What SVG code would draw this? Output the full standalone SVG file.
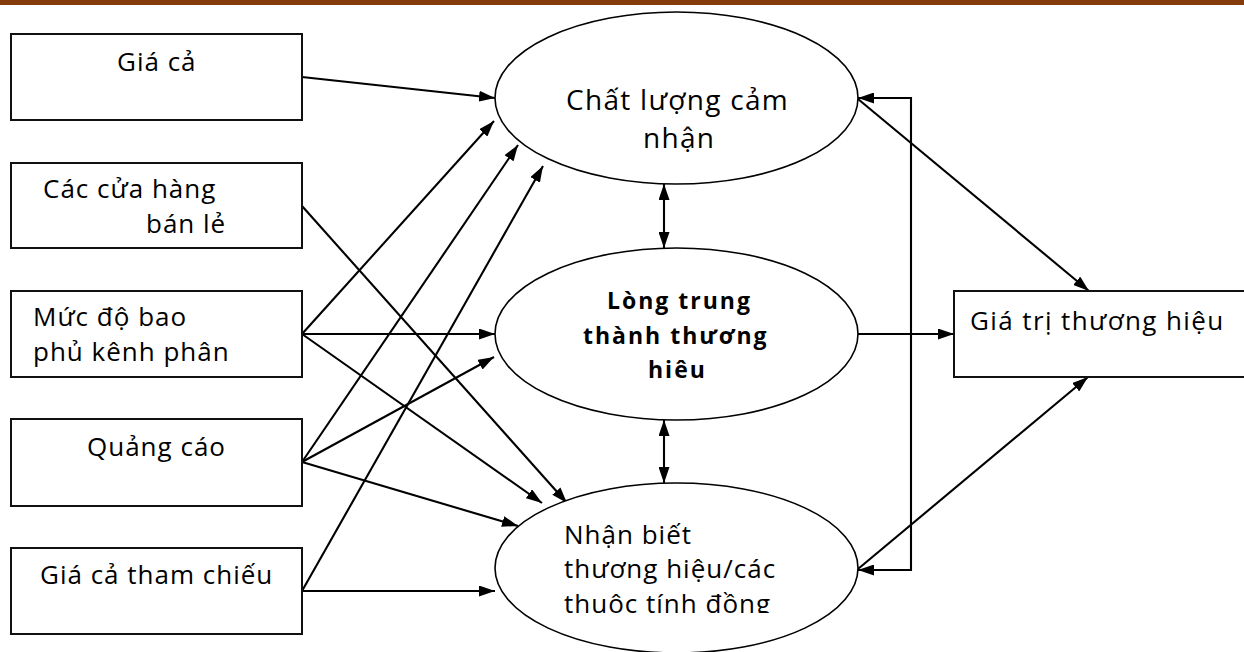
<svg xmlns="http://www.w3.org/2000/svg" width="1244" height="652" viewBox="0 0 1244 652">
  <style>
    .box { fill: #ffffff; stroke: #111111; stroke-width: 2; }
    .oval { fill: #ffffff; stroke: #000000; stroke-width: 1.6; }
    .lbl { font-family: "Open Sans", "Noto Sans", sans-serif; font-size: 26px; letter-spacing: 1px; fill: #000000; }
    .big { font-size: 28px; letter-spacing: 1.3px; }
    .wide { letter-spacing: 1.4px; }
    .bold { font-weight: bold; font-size: 23px; letter-spacing: 2px; }
    .edge { fill: none; stroke: #000000; stroke-width: 2.1; }
  </style>
  <defs>
    <marker id="arrow" viewBox="0 0 16 11" refX="16" refY="5.5" markerWidth="16" markerHeight="11" markerUnits="userSpaceOnUse" orient="auto-start-reverse">
      <path d="M0,0 L16,5.5 L0,11 z" fill="#000000"/>
    </marker>
    <clipPath id="nbClip">
      <rect x="480" y="470" width="400" height="143"/>
    </clipPath>
  </defs>

  <rect width="1244" height="652" fill="#ffffff"/>
  <!-- header rule -->
  <rect x="0" y="0" width="1244" height="5" fill="#843C0C"/>

  <!-- connectors -->
  <g id="connectors">
    <line class="edge" x1="302" y1="77" x2="495" y2="98" marker-end="url(#arrow)"/>
    <line class="edge" x1="302" y1="206" x2="567" y2="503" marker-end="url(#arrow)"/>
    <line class="edge" x1="302" y1="334" x2="494" y2="121" marker-end="url(#arrow)"/>
    <line class="edge" x1="302" y1="334" x2="495" y2="334" marker-end="url(#arrow)"/>
    <line class="edge" x1="302" y1="334" x2="542" y2="503" marker-end="url(#arrow)"/>
    <line class="edge" x1="302" y1="462" x2="518" y2="145" marker-end="url(#arrow)"/>
    <line class="edge" x1="302" y1="462" x2="494" y2="357" marker-end="url(#arrow)"/>
    <line class="edge" x1="302" y1="462" x2="518" y2="526" marker-end="url(#arrow)"/>
    <line class="edge" x1="302" y1="591" x2="543" y2="166" marker-end="url(#arrow)"/>
    <line class="edge" x1="302" y1="591" x2="495" y2="591" marker-end="url(#arrow)"/>
    <!-- links between the three constructs -->
    <line class="edge" x1="664" y1="184" x2="664" y2="248" marker-start="url(#arrow)" marker-end="url(#arrow)"/>
    <line class="edge" x1="664" y1="420" x2="664" y2="483" marker-start="url(#arrow)" marker-end="url(#arrow)"/>
    <!-- bracket linking top and bottom constructs -->
    <path class="edge" d="M858,98 H911 V570 H858" marker-start="url(#arrow)" marker-end="url(#arrow)"/>
    <!-- into brand equity -->
    <line class="edge" x1="858" y1="334" x2="954" y2="334" marker-end="url(#arrow)"/>
    <line class="edge" x1="858" y1="99" x2="1089" y2="291" marker-end="url(#arrow)"/>
    <line class="edge" x1="858" y1="569" x2="1088" y2="377" marker-end="url(#arrow)"/>
  </g>

  <!-- source factors -->
  <g id="gia-ca">
    <rect class="box" x="11" y="34" width="291" height="86"/>
    <text class="lbl" x="117" y="71">Giá cả</text>
  </g>
  <g id="cua-hang">
    <rect class="box" x="11" y="163" width="291" height="85"/>
    <text class="lbl" x="43" y="198">Các cửa hàng</text>
    <text class="lbl" x="146" y="233">bán lẻ</text>
  </g>
  <g id="bao-phu">
    <rect class="box" x="11" y="291" width="291" height="86"/>
    <text class="lbl" x="33" y="326">Mức độ bao</text>
    <text class="lbl" x="33" y="361">phủ kênh phân</text>
  </g>
  <g id="quang-cao">
    <rect class="box" x="11" y="419" width="291" height="87"/>
    <text class="lbl" x="87" y="456">Quảng cáo</text>
  </g>
  <g id="gia-tham-chieu">
    <rect class="box" x="11" y="548" width="291" height="86"/>
    <text class="lbl" x="40" y="584">Giá cả tham chiếu</text>
  </g>

  <!-- constructs -->
  <g id="chat-luong">
    <ellipse class="oval" cx="676.5" cy="98" rx="181.5" ry="86"/>
    <text class="lbl big" x="566" y="110">Chất lượng cảm</text>
    <text class="lbl big" x="643" y="148">nhận</text>
  </g>
  <g id="trung-thanh">
    <ellipse class="oval" cx="676.5" cy="334" rx="181.5" ry="86"/>
    <text class="lbl bold" x="607" y="309">Lòng trung</text>
    <text class="lbl bold" x="583" y="344">thành thương</text>
    <text class="lbl bold" x="648" y="378">hiêu</text>
  </g>
  <g id="nhan-biet">
    <ellipse class="oval" cx="676.5" cy="568" rx="181.5" ry="85"/>
    <g clip-path="url(#nbClip)">
      <text class="lbl" x="564" y="544">Nhận biết</text>
      <text class="lbl" x="564" y="578">thương hiệu/các</text>
      <text class="lbl" x="564" y="613">thuôc tính đồng</text>
    </g>
  </g>

  <!-- outcome -->
  <g id="gia-tri">
    <rect class="box" x="954" y="291" width="300" height="86"/>
    <text class="lbl wide" x="970" y="330">Giá trị thương hiệu</text>
  </g>
</svg>
